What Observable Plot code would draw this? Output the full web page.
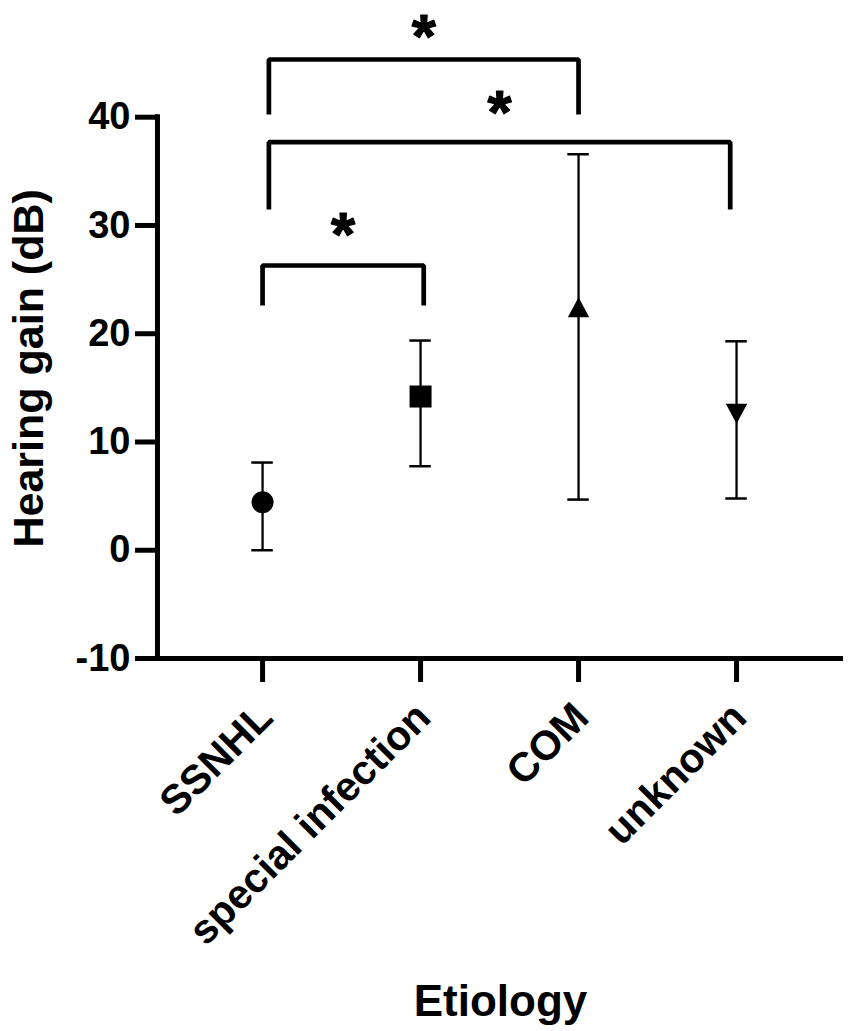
<!DOCTYPE html>
<html>
<head>
<meta charset="utf-8">
<script src="https://cdn.jsdelivr.net/npm/d3@7"></script>
<script src="https://cdn.jsdelivr.net/npm/@observablehq/plot@0.6"></script>
<style>
  html, body { margin: 0; padding: 0; background: #fff; }
</style>
</head>
<body>
<div id="chart"></div>
<script>
// ---- data ----
const categories = ["SSNHL", "special infection", "COM", "unknown"];
const means = [4.43, 14.2, 22.45, 12.6];
const lows  = [0.0, 7.76, 4.68, 4.78];
const highs = [8.1, 19.37, 36.58, 19.3];
const yTicks = [-10, 0, 10, 20, 30, 40];

// significance brackets (x in category index units, y in dB)
const bracketFrom   = [0.04, 0.04, 0.0];
const bracketTo     = [2.0, 2.96, 1.02];
const bracketTop    = [45.33, 37.69, 26.3];
const bracketBottom = [40.25, 31.47, 22.6];
const bracketLabel  = ["*", "*", "*"];
const starY         = [48.2, 41.26, 29.97];

// ---- derived tables ----
const rows = categories.map((c, i) => ({c, i, mean: means[i], lo: lows[i], hi: highs[i]}));
const bracketPts = [];
bracketFrom.forEach((x1, k) => {
  bracketPts.push({k, x: x1, y: bracketBottom[k]});
  bracketPts.push({k, x: x1, y: bracketTop[k]});
  bracketPts.push({k, x: bracketTo[k], y: bracketTop[k]});
  bracketPts.push({k, x: bracketTo[k], y: bracketBottom[k]});
});
const stars = bracketLabel.map((t, k) => ({t, x: (bracketFrom[k] + bracketTo[k]) / 2, y: starY[k]}));

// ---- marker shapes ----
const circleSym = d3.symbolCircle;
const squareSym = {draw(ctx, size) { const r = Math.sqrt(size / Math.PI); ctx.rect(-r, -r, 2 * r, 2 * r); }};
const upSym = {draw(ctx, size) { const r = Math.sqrt(size / Math.PI); ctx.moveTo(0, -r); ctx.lineTo(1.07 * r, r); ctx.lineTo(-1.07 * r, r); ctx.closePath(); }};
const downSym = {draw(ctx, size) { const r = Math.sqrt(size / Math.PI); ctx.moveTo(0, r); ctx.lineTo(1.07 * r, -r); ctx.lineTo(-1.07 * r, -r); ctx.closePath(); }};
const shapes = [circleSym, squareSym, upSym, downSym];
const sizes = [11, 11, 10, 10];

const xDomain = [-0.665, 3.677];
const capHalf = 0.068;

const markerMarks = rows.map((r, i) =>
  Plot.dot([r], {x: "i", y: "mean", symbol: shapes[i], r: sizes[i], fill: "black", stroke: "none"})
);

const chart = Plot.plot({
  width: 851,
  height: 1031,
  marginLeft: 157,
  marginRight: 8,
  marginTop: 116.7,
  marginBottom: 373,
  style: {fontFamily: "'Liberation Sans', Arial, sans-serif", fontWeight: "bold", background: "white", color: "black"},
  x: {type: "linear", domain: xDomain, axis: null},
  y: {domain: [-10, 40], axis: null},
  marks: [
    // axis lines
    Plot.ruleX([xDomain[0]], {y1: -10.23, y2: 40.23, stroke: "black", strokeWidth: 5}),
    Plot.ruleY([-10], {x1: xDomain[0], x2: xDomain[1], stroke: "black", strokeWidth: 5}),
    Plot.axisY({ticks: yTicks, tickSize: 22, tickPadding: 5, tickFormat: d => String(d), fontSize: 38, fontWeight: "bold", strokeWidth: 5, label: null}),
    Plot.axisX({ticks: [0, 1, 2, 3], tickSize: 24, tickFormat: () => "", strokeWidth: 5, label: null}),
    // category labels
    Plot.text(rows, {x: "i", frameAnchor: "bottom", text: "c", rotate: -45, textAnchor: "end", lineAnchor: "middle", dx: 3, dy: 52, fontSize: 41, fontWeight: "bold", fill: "black"}),
    // axis titles
    Plot.text(["Etiology"], {frameAnchor: "bottom", text: d => d, lineAnchor: "bottom", dy: 357, fontSize: 44, fontWeight: "bold", fill: "black"}),
    Plot.text(["Hearing gain (dB)"], {frameAnchor: "left", text: d => d, rotate: -90, textAnchor: "middle", lineAnchor: "bottom", dx: -115, dy: -19.5, fontSize: 43, fontWeight: "bold", fill: "black"}),
    // error bars
    Plot.ruleX(rows, {x: "i", y1: "lo", y2: "hi", stroke: "black", strokeWidth: 2.3}),
    Plot.ruleY(rows, {y: "hi", x1: d => d.i - capHalf, x2: d => d.i + capHalf, stroke: "black", strokeWidth: 2.5}),
    Plot.ruleY(rows, {y: "lo", x1: d => d.i - capHalf, x2: d => d.i + capHalf, stroke: "black", strokeWidth: 2.5}),
    ...markerMarks,
    // significance brackets
    Plot.line(bracketPts, {x: "x", y: "y", z: "k", stroke: "black", strokeWidth: 4.7, strokeLinejoin: "miter", strokeLinecap: "butt", curve: "linear"}),
    Plot.text(stars, {x: "x", y: "y", text: "t", lineAnchor: "bottom", dy: 29, fontSize: 62, fontWeight: "bold", fill: "black", stroke: "black", strokeWidth: 1.2})
  ]
});
document.getElementById("chart").appendChild(chart);
</script>
</body>
</html>
